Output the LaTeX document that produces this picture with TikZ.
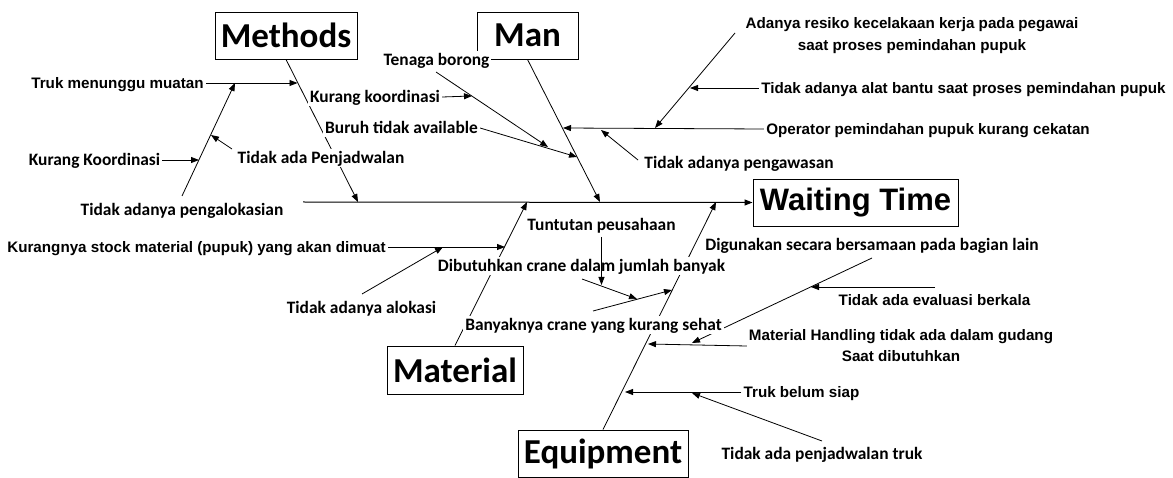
\documentclass[tikz,border=0pt]{standalone}
\usepackage{fontspec}
\setmainfont{Carlito}
\newfontfamily\arialfont{Liberation Sans}
\usetikzlibrary{arrows.meta}
\pgfdeclarelayer{bg}
\pgfsetlayers{bg,main}
\begin{document}
\begin{tikzpicture}[x=1pt,y=-1pt,
  bone/.style={line width=0.8pt},
  arr/.style={line width=0.8pt,-{Triangle[length=8pt,width=6pt]}},
  cal/.style={fill=white,inner xsep=2pt,inner ysep=0.5pt,font=\bfseries\fontsize{17.4}{20}\selectfont,text height=14.5pt,text depth=3pt},
  ari/.style={fill=white,inner xsep=2pt,inner ysep=0.5pt,font=\arialfont\bfseries\fontsize{15.2}{22}\selectfont,text height=14pt,text depth=3pt},
  aritwo/.style={fill=white,inner xsep=2pt,inner ysep=1pt,align=center},
  cat/.style={draw,fill=white,line width=0.9pt,inner sep=0pt,font=\bfseries\fontsize{35}{40}\selectfont}
]
\useasboundingbox (0,0) rectangle (1173,478);

% category boxes
\node[cat,minimum width=142pt,minimum height=47pt] (methods) at (286,35.5) {Methods};
\node[cat,minimum width=101pt,minimum height=47pt] (man) at (527.5,35.5) {Man};
\node[cat,minimum width=136pt,minimum height=48pt] (material) at (455,370) {Material};
\node[cat,minimum width=170pt,minimum height=47pt] (equip) at (603,453.5) {Equipment};
\node[cat,font=\arialfont\bfseries\fontsize{31}{36}\selectfont,minimum width=205pt,minimum height=47pt] (wt) at (855.5,202.5) {Waiting Time};

% labels
\node[ari] (m1) at (117.5,83) {Truk menunggu muatan};
\node[cal] (m2) at (94.5,160) {Kurang Koordinasi};
\node[cal] (m3) at (321,158) {Tidak ada Penjadwalan};
\node[cal] (m4) at (182,210) {Tidak adanya pengalokasian};
\node[cal] (m5) at (375,97) {Kurang koordinasi};
\node[cal] (m6) at (436.5,60) {Tenaga borong};
\node[cal] (m7) at (401.5,128) {Buruh tidak available};
\node[cal] (m8) at (739,163) {Tidak adanya pengawasan};
\node[ari] (m9) at (928,129) {Operator pemindahan pupuk kurang cekatan};
\node[ari] (m10) at (963.5,88) {Tidak adanya alat bantu saat proses pemindahan pupuk};
\node[aritwo,font=\arialfont\bfseries\fontsize{15.2}{22}\selectfont] (m11) at (912,35.5) {Adanya resiko kecelakaan kerja pada pegawai\\saat proses pemindahan pupuk};
\node[ari] (m12) at (196.5,247) {Kurangnya stock material (pupuk) yang akan dimuat};
\node[cal] (m13) at (361.5,308) {Tidak adanya alokasi};
\node[cal] (m14) at (601.5,225) {Tuntutan peusahaan};
\node[cal] (m15) at (581.5,266) {Dibutuhkan crane dalam jumlah banyak};
\node[cal] (m16) at (593.5,325) {Banyaknya crane yang kurang sehat};
\node[cal] (m17) at (872,245) {Digunakan secara bersamaan pada bagian lain};
\node[ari] (m18) at (934.5,300) {Tidak ada evaluasi berkala};
\node[aritwo,font=\arialfont\bfseries\fontsize{15.2}{21}\selectfont] (m19) at (901,346) {Material Handling tidak ada dalam gudang\\Saat dibutuhkan};
\node[ari] (m20) at (801.5,392) {Truk belum siap};
\node[cal] (m21) at (822,454) {Tidak ada penjadwalan truk};

% coordinates
\coordinate (sL) at (303,202);
\coordinate (pMe) at (358,202);
\coordinate (pMa) at (600,202);
\coordinate (pMt) at (527,202);
\coordinate (pEq) at (716,202);

\coordinate (a1) at (297.5,83);
\coordinate (c4) at (182,196);
\coordinate (a4) at (235,83);
\coordinate (a2) at (199,160);
\coordinate (c3) at (232,149);
\coordinate (a3) at (211,135);

\coordinate (c6) at (436,72);
\coordinate (a6) at (548,147);
\coordinate (a5) at (472,96);
\coordinate (a7) at (577,157);
\coordinate (a9) at (563,128);
\coordinate (c11) at (735,33);
\coordinate (a11) at (655,128);
\coordinate (a10) at (690,88);
\coordinate (c8) at (638,160);
\coordinate (a8) at (601,130);

\coordinate (a12) at (505,247);
\coordinate (c13) at (362,294);
\coordinate (a13) at (443,247);
\coordinate (c15) at (582,279);
\coordinate (a15) at (637,299);
\coordinate (c14) at (601.5,237);
\coordinate (a14) at (601.5,285);
\coordinate (c16) at (593,311);
\coordinate (a16) at (672,290);

\coordinate (c17) at (872,258);
\coordinate (a17) at (692,343);
\coordinate (c18) at (935,287);
\coordinate (a18) at (811,287);
\coordinate (a19) at (648,344);
\coordinate (a20) at (625,392);
\coordinate (c21) at (822,441);
\coordinate (a21) at (692,393);

\begin{pgfonlayer}{bg}
  % spine and bones
  \draw[arr,line width=1pt] (sL) -- (wt.west);
  \draw[arr] (methods.south) -- (pMe);
  \draw[arr] (man.south) -- (pMa);
  \draw[arr] (material.north) -- (pMt);
  \draw[arr] (equip.north) -- (pEq);
  % methods
  \draw[arr] (m1.east) -- (a1);
  \draw[arr] (c4) -- (a4);
  \draw[arr] (m2.east) -- (a2);
  \draw[arr] (c3) -- (a3);
  % man
  \draw[arr] (c6) -- (a6);
  \draw[arr] (m5.east) -- (a5);
  \draw[arr] (m7.east) -- (a7);
  \draw[arr] (m9.west) -- (a9);
  \draw[arr] (c11) -- (a11);
  \draw[arr] (m10.west) -- (a10);
  \draw[arr] (c8) -- (a8);
  % material
  \draw[arr] (m12.east) -- (a12);
  \draw[arr] (c13) -- (a13);
  \draw[arr] (c15) -- (a15);
  \draw[arr] (c16) -- (a16);
  % equipment
  \draw[arr] (c17) -- (a17);
  \draw[arr] (c18) -- (a18);
  \draw[arr] (m19.west) -- (a19);
  \draw[arr] (m20.west) -- (a20);
  \draw[arr] (c21) -- (a21);
\end{pgfonlayer}
\draw[arr] (c14) -- (a14);
\end{tikzpicture}
\end{document}
